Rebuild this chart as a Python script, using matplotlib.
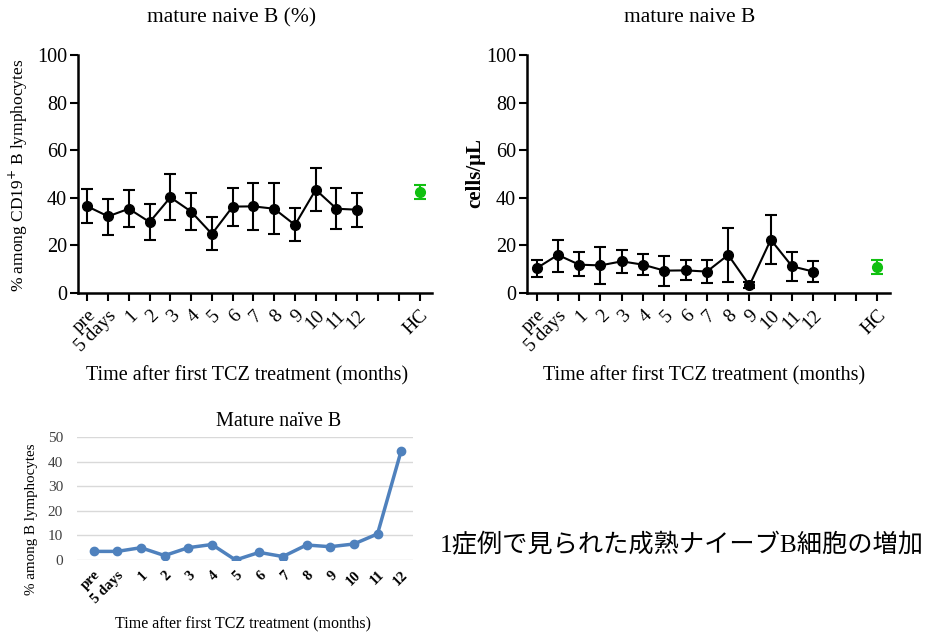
import matplotlib
matplotlib.use("Agg")
import matplotlib.pyplot as plt
import numpy as np

plt.rcParams['font.family'] = ['Liberation Serif', 'Noto Sans CJK JP']

# ---- data ----
tick_labels_top = ['pre', '5 days', '1', '2', '3', '4', '5', '6', '7', '8', '9',
                   '10', '11', '12', '', '', 'HC']
pct_mean = [36.4, 32.2, 35.4, 29.8, 40.2, 34.2, 24.8, 36.3, 36.4, 35.4, 28.6, 43.4, 35.4, 35.0]
pct_hi = [43.8, 39.6, 43.4, 37.4, 50.0, 42.2, 31.9, 44.3, 46.4, 46.4, 35.6, 52.5, 44.3, 42.2]
pct_lo = [29.4, 24.5, 27.6, 22.4, 30.5, 26.6, 18.1, 28.3, 26.6, 24.9, 22.0, 34.5, 26.9, 27.7]
pct_hc = [42.4]
pct_hc_hi = [45.4]
pct_hc_lo = [39.5]

cnt_mean = [10.4, 16.0, 11.9, 11.6, 13.3, 11.9, 9.4, 9.5, 9.0, 16.0, 3.2, 22.4, 11.2, 9.0]
cnt_hi = [13.9, 22.1, 17.2, 19.3, 17.9, 16.5, 15.7, 13.9, 13.9, 27.3, 4.5, 32.8, 17.1, 13.3]
cnt_lo = [6.6, 8.8, 7.0, 3.8, 8.4, 7.4, 2.8, 5.6, 4.1, 4.8, 2.1, 12.3, 5.2, 4.6]
cnt_hc = [11.1]
cnt_hc_hi = [13.9]
cnt_hc_lo = [8.1]

case_labels = ['pre', '5 days', '1', '2', '3', '4', '5', '6', '7', '8', '9', '10', '11', '12']
case_values = [3.5, 3.5, 5.0, 1.8, 5.0, 6.3, 0.0, 3.1, 1.4, 6.1, 5.4, 6.5, 10.6, 44.4]

W, H = 928, 637
fig = plt.figure(figsize=(W / 100, H / 100), dpi=100)
fig.patch.set_facecolor('white')

def fx(px):
    return px / W

def fy(py):
    return 1 - py / H

green = '#10c010'

def top_panel(rect, mean, hi, lo, hc, hchi, hclo):
    ax = fig.add_axes(rect)
    n = len(mean)
    x = np.arange(n)
    m = np.array(mean)
    yerr = [m - np.array(lo), np.array(hi) - m]
    ax.errorbar(x, m, yerr=yerr, color='black', marker='o', markersize=7,
                linewidth=1.5, elinewidth=1.5, capsize=4, capthick=1.5, zorder=3)
    hx = np.array([len(tick_labels_top) - 1])
    hm = np.array(hc)
    ax.errorbar(hx, hm, yerr=[hm - np.array(hclo), np.array(hchi) - hm], color=green,
                marker='o', markersize=7, elinewidth=1.5, capsize=4, capthick=1.5,
                linestyle='none', zorder=3)
    ax.set_xlim(-0.45, len(tick_labels_top) - 1 + 0.6)
    ax.set_ylim(0, 100)
    ax.set_yticks([0, 20, 40, 60, 80, 100])
    ax.set_xticks(np.arange(len(tick_labels_top)))
    ax.set_xticklabels(tick_labels_top, rotation=45, ha='right', rotation_mode='anchor',
                       fontsize=14)
    ax.tick_params(axis='y', labelsize=14.5, width=1.5, length=6, direction='out', pad=2)
    ax.tick_params(axis='x', width=1.5, length=6, direction='out', pad=4)
    for s in ['top', 'right']:
        ax.spines[s].set_visible(False)
    for s in ['left', 'bottom']:
        ax.spines[s].set_linewidth(1.8)
    ax.set_facecolor('white')
    return ax

ax1 = top_panel([fx(78), fy(293), fx(432) - fx(78), fy(55) - fy(293)],
                pct_mean, pct_hi, pct_lo, pct_hc, pct_hc_hi, pct_hc_lo)
ax2 = top_panel([fx(527), fy(293), fx(890) - fx(527), fy(55) - fy(293)],
                cnt_mean, cnt_hi, cnt_lo, cnt_hc, cnt_hc_hi, cnt_hc_lo)

fig.text(fx(232), fy(18), 'mature naive B (%)', ha='center', va='center', fontsize=15.5)
fig.text(fx(690), fy(18), 'mature naive B', ha='center', va='center', fontsize=15.5)
fig.text(fx(247), fy(376), 'Time after first TCZ treatment (months)', ha='center',
         va='center', fontsize=14.5)
fig.text(fx(704), fy(376), 'Time after first TCZ treatment (months)', ha='center',
         va='center', fontsize=14.5)
fig.text(fx(18), fy(175), '% among CD19$^{+}$ B lymphocytes', rotation=90, ha='center',
         va='center', fontsize=12.5)
fig.text(fx(475), fy(173), 'cells/μL', rotation=90, ha='center', va='center',
         fontsize=15, fontweight='bold')

# ---- bottom Excel-like chart ----
ax3 = fig.add_axes([fx(77), fy(560), fx(413) - fx(77), fy(437) - fy(560)])
xb = np.arange(len(case_values))
ax3.plot(xb, case_values, color='#4f81bd', linewidth=2.5, marker='o', markersize=6,
         zorder=3)
ax3.set_xlim(-0.7, len(case_values) - 0.5)
ax3.set_ylim(0, 50)
ax3.set_yticks([0, 10, 20, 30, 40, 50])
ax3.yaxis.grid(True, color='#d9d9d9', linewidth=1)
ax3.set_axisbelow(True)
for s in ax3.spines.values():
    s.set_visible(False)
ax3.tick_params(axis='both', length=0)
ax3.tick_params(axis='y', labelsize=11, pad=10, colors='#404040')
ax3.set_xticks(xb)
ax3.set_xticklabels(case_labels, rotation=45, ha='right', rotation_mode='anchor',
                    fontsize=10.5, fontweight='bold')
ax3.tick_params(axis='x', pad=6)

fig.text(fx(279), fy(422), 'Mature naïve B', ha='center', va='center', fontsize=14.5)
fig.text(fx(32), fy(519), '% among B lymphocytes', rotation=90, ha='center', va='center',
         fontsize=10.8)
fig.text(fx(243), fy(623), 'Time after first TCZ treatment (months)', ha='center',
         va='center', fontsize=11.5)

fig.text(fx(682), fy(545), '1症例で見られた成熟ナイーブB細胞の増加', ha='center', va='center',
         fontsize=18.2, family=['Liberation Serif', 'Noto Sans CJK JP'])

fig.savefig('out.png', dpi=100)
